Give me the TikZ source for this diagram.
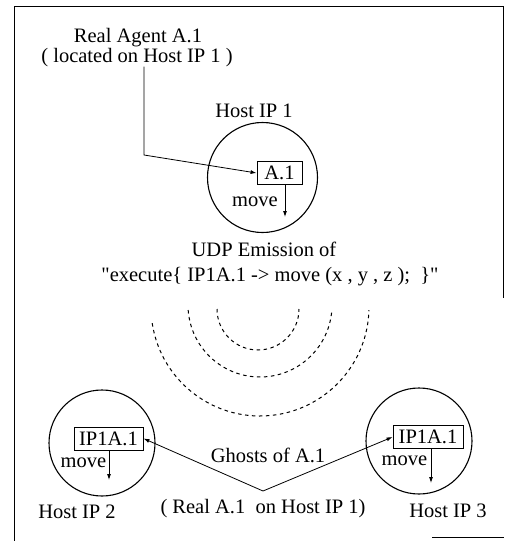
\documentclass[tikz,border=0pt]{standalone}
\usepackage{fontspec}
\setmainfont{Liberation Serif}[Ligatures=TeXOff]
\usetikzlibrary{arrows.meta}
\begin{document}
\begin{tikzpicture}[x=1pt,y=1pt,
  lbl/.style={font=\fontsize{20.5}{18}\selectfont, inner sep=0pt, anchor=base},
  agentbox/.style={draw, line width=0.9pt, font=\fontsize{20.5}{18}\selectfont, inner sep=0pt, minimum height=23pt},
  host/.style={draw, circle, line width=1.1pt, inner sep=0pt},
  conn/.style={line width=0.8pt, -{Latex[length=6pt,width=4pt]}},
  wave/.style={line width=1pt, dash pattern=on 3.5pt off 3.5pt},
  framel/.style={line width=1pt}]
\useasboundingbox (0,0) rectangle (504,-541);
% frame
\draw[framel] (14,-541) -- (14,-6) -- (503,-6) -- (503,-298);
\draw[framel] (432,-537) -- (504,-537);
% top agent
\node[lbl] (agentA) at (138,-42) {Real Agent A.1};
\node[lbl] (agentB) at (137,-62) {( located on Host IP 1 )};
% host 1
\node[host, minimum size=110pt] (h1) at (262.5,-177.5) {};
\node[lbl] (h1lbl) at (254,-117) {Host IP 1};
\node[agentbox, minimum width=45pt] (a1) at (279.5,-173) {A.1};
\node[lbl] (m1) at (255,-206) {move};
\coordinate (m1end) at (285,-217);
\draw[conn] (a1.south -| m1end) -- (m1end);
\coordinate (bend) at (144,-155);
\draw[conn] (agentB.south -| bend) -- (bend) -- (a1.west);
% UDP
\node[lbl] (udp) at (264,-256) {UDP Emission of};
\node[lbl] (exec) at (270,-281) {"execute\{ IP1A.1 -> move (x , y , z );~~\}"};
% waves
\draw[wave] (258,-309) ++(180:41) arc[start angle=180, end angle=360, radius=41];
\draw[wave] (260,-305) ++(184:72) arc[start angle=184, end angle=356, radius=72];
\draw[wave] (260,-307) ++(188.5:109) arc[start angle=188.5, end angle=358.4, radius=109];
% host 2
\node[host, minimum size=106pt] (h2) at (102,-443) {};
\node[agentbox, minimum width=69pt] (g2) at (108.5,-438.5) {IP1A.1};
\node[lbl] (m2) at (83.5,-467) {move};
\coordinate (m2end) at (109,-480);
\draw[conn] (g2.south -| m2end) -- (m2end);
\node[lbl] (h2lbl) at (77,-518) {Host IP 2};
% host 3
\node[host, minimum size=106pt] (h3) at (419,-441) {};
\node[agentbox, minimum width=70pt] (g3) at (428,-437) {IP1A.1};
\node[lbl] (m3) at (404.5,-465) {move};
\coordinate (m3end) at (431,-483);
\draw[conn] (g3.south -| m3end) -- (m3end);
\node[lbl] (h3lbl) at (448,-517) {Host IP 3};
% ghosts
\node[lbl] (ghosts) at (268,-462) {Ghosts of A.1};
\node[lbl] (real) at (263,-513) {( Real A.1~~on Host IP 1)};
\coordinate (v) at (263,-491);
\draw[conn] (v) -- (g2.east);
\draw[conn] (v) -- (g3.west);
\end{tikzpicture}
\end{document}
